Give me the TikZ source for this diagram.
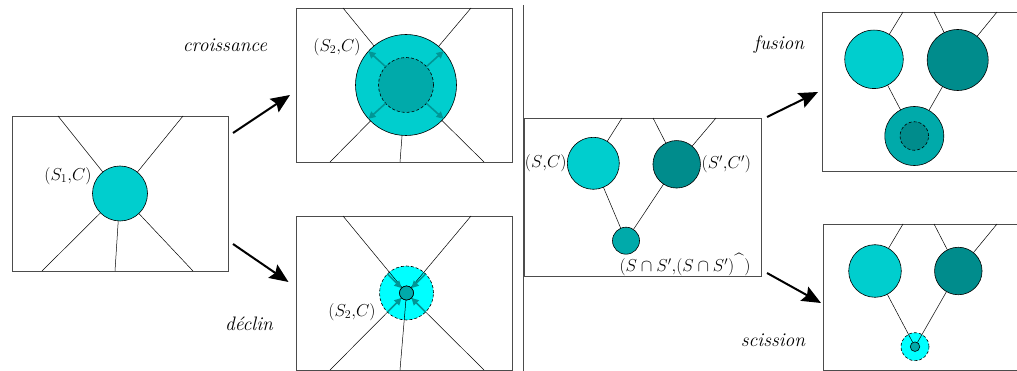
\documentclass[tikz,border=0pt]{standalone}
\usepackage{fontspec}
\usetikzlibrary{arrows.meta}
\definecolor{turq}{RGB}{0,206,206}
\definecolor{darkteal}{RGB}{0,140,140}
\definecolor{midteal}{RGB}{0,170,170}
\definecolor{lightcyan}{RGB}{0,255,255}
\definecolor{arrteal}{RGB}{0,150,150}
\tikzset{
  frame/.style={draw=black!70, line width=0.8pt},
  ray/.style={line width=0.5pt},
  blob/.style={circle, draw, line width=0.6pt, inner sep=0pt, outer sep=0pt},
  dashblob/.style={circle, draw, densely dashed, line width=0.6pt, inner sep=0pt, outer sep=0pt},
  bigarrow/.style={-{Stealth[length=19pt,width=16pt,inset=3pt]}, line width=2pt},
  smallarrow/.style={-{Triangle[length=7pt,width=7pt]}, line width=1.6pt, draw=arrteal, fill=arrteal},
  lab/.style={font=\fontsize{17}{20}\selectfont, inner sep=0pt},
  captxt/.style={font=\fontsize{19.5}{22}\selectfont\itshape, inner sep=0pt}
}
\begin{document}
\begin{tikzpicture}[x=1pt,y=-1pt]
\useasboundingbox (0,0) rectangle (1017,371);
\clip (0,0) rectangle (1017,371);

% ---------- Box 1 ----------
\draw[frame] (12,116) rectangle (228,271);
\node[blob, fill=turq, minimum size=55pt] (c1) at (120,193.5) {};
\coordinate (r11) at (58,116);
\coordinate (r12) at (183,116);
\coordinate (r13) at (42,271);
\coordinate (r14) at (115,271);
\coordinate (r15) at (193,271);
\foreach \i in {1,...,5} { \draw[ray] (r1\i) -- (c1); }
\node[lab] (l1) at (68,176) {$(S_1{,}C)$};

% ---------- Box 2 : croissance ----------
\draw[frame] (296,8) rectangle (512,162);
\node[blob, fill=turq, minimum size=101pt] (c2) at (406,85) {};
\node[dashblob, fill=midteal, minimum size=55pt] (c2i) at (406,85) {};
\coordinate (r21) at (343,8);
\coordinate (r22) at (471,8);
\coordinate (r23) at (330,162);
\coordinate (r24) at (400,162);
\coordinate (r25) at (484,162);
\foreach \i in {1,...,5} { \draw[ray] (r2\i) -- (c2); }
\foreach \a in {42,138,222,318} {
  \draw[smallarrow] (c2i.\a) -- (c2.\a);
}
\node[lab] (l2) at (337,47) {$(S_2{,}C)$};

% ---------- Box 3 : declin ----------
\draw[frame] (296,216) rectangle (512,370);
\node[dashblob, fill=lightcyan, minimum size=54pt] (c3) at (406.5,293) {};
\node[blob, fill=midteal, minimum size=14pt] (c3s) at (406.5,293) {};
\coordinate (r31) at (343,216);
\coordinate (r32) at (471,216);
\coordinate (r33) at (330,370);
\coordinate (r34) at (400,370);
\coordinate (r35) at (484,370);
\foreach \i in {1,...,5} { \draw[ray] (r3\i) -- (c3s); }
\foreach \a in {45,135,225,315} {
  \draw[smallarrow] (c3.\a) -- (c3s.\a);
}
\node[blob, fill=midteal, minimum size=14pt] at (c3s) {};
\node[lab] (l3) at (352,312) {$(S_2{,}C)$};

% ---------- separator ----------
\coordinate (sepT) at (523,5);
\coordinate (sepB) at (523,371);
\draw[frame] (sepT) -- (sepB);

% ---------- Box 4 ----------
\draw[frame] (524,118) rectangle (761,276);
\node[blob, fill=turq, minimum size=52pt] (cA) at (593.3,163.3) {};
\node[blob, fill=darkteal, minimum size=47.5pt] (cB) at (676.7,164.3) {};
\node[blob, fill=midteal, minimum size=27pt] (cC) at (626,240.7) {};
\coordinate (t41) at (622,118);
\coordinate (t42) at (653,118);
\coordinate (t43) at (716,118);
\draw[ray] (t41) -- (cA);
\draw[ray] (t42) -- (cB);
\draw[ray] (t43) -- (cB);
\draw[ray] (cA) -- (cC);
\draw[ray] (cB) -- (cC);
\node[lab, anchor=east] (lA) at ([xshift=-0.5pt]cA.west) {$(S{,}C)$};
\node[lab, anchor=west] (lB) at ([xshift=1pt]cB.east) {$(S'{,}C')$};
\node[lab] (lC) at (685,264) {$(S\cap S'{,}(S\cap S')^{\mbox{\^{}}})$};

% ---------- Box 5 : fusion ----------
\draw[frame] (822.5,12) rectangle (1030,171);
\node[blob, fill=turq, minimum size=58.5pt] (dA) at (874,59.3) {};
\node[blob, fill=darkteal, minimum size=61pt] (dB) at (957.7,60) {};
\node[blob, fill=midteal, minimum size=59pt] (dC) at (914.3,136) {};
\node[dashblob, fill=darkteal, minimum size=28.5pt] (dCi) at (914.3,136) {};
\coordinate (t51) at (903,12);
\coordinate (t52) at (934,12);
\coordinate (t53) at (997,12);
\draw[ray] (t51) -- (dA);
\draw[ray] (t52) -- (dB);
\draw[ray] (t53) -- (dB);
\draw[ray] (dA) -- (dC);
\draw[ray] (dB) -- (dC);

% ---------- Box 6 : scission ----------
\draw[frame] (823,224) rectangle (1030,370);
\node[blob, fill=turq, minimum size=52.6pt] (eA) at (875,271) {};
\node[blob, fill=darkteal, minimum size=47.5pt] (eB) at (958.3,271) {};
\node[dashblob, fill=lightcyan, minimum size=28pt] (eC) at (915,346.7) {};
\node[blob, fill=midteal, minimum size=9.5pt] (eCs) at (915,346.7) {};
\coordinate (t61) at (903,224);
\coordinate (t62) at (934,224);
\coordinate (t63) at (997,224);
\draw[ray] (t61) -- (eA);
\draw[ray] (t62) -- (eB);
\draw[ray] (t63) -- (eB);
\draw[ray] (eA) -- (eCs);
\draw[ray] (eB) -- (eCs);

% ---------- transition arrows ----------
\coordinate (a1s) at (233,133);
\coordinate (a1e) at (290,95);
\coordinate (a2s) at (233,244);
\coordinate (a2e) at (288.5,282);
\coordinate (a3s) at (767,117);
\coordinate (a3e) at (818,92);
\coordinate (a4s) at (767,273);
\coordinate (a4e) at (821,303);
\draw[bigarrow] (a1s) -- (a1e);
\draw[bigarrow] (a2s) -- (a2e);
\draw[bigarrow] (a3s) -- (a3e);
\draw[bigarrow] (a4s) -- (a4e);

\node[captxt] (tcro) at (225,45) {croissance};
\node[captxt] (tdec) at (249,324) {déclin};
\node[captxt] (tfus) at (779,45) {fusion};
\node[captxt] (tsci) at (773,340) {scission};
\end{tikzpicture}
\end{document}
